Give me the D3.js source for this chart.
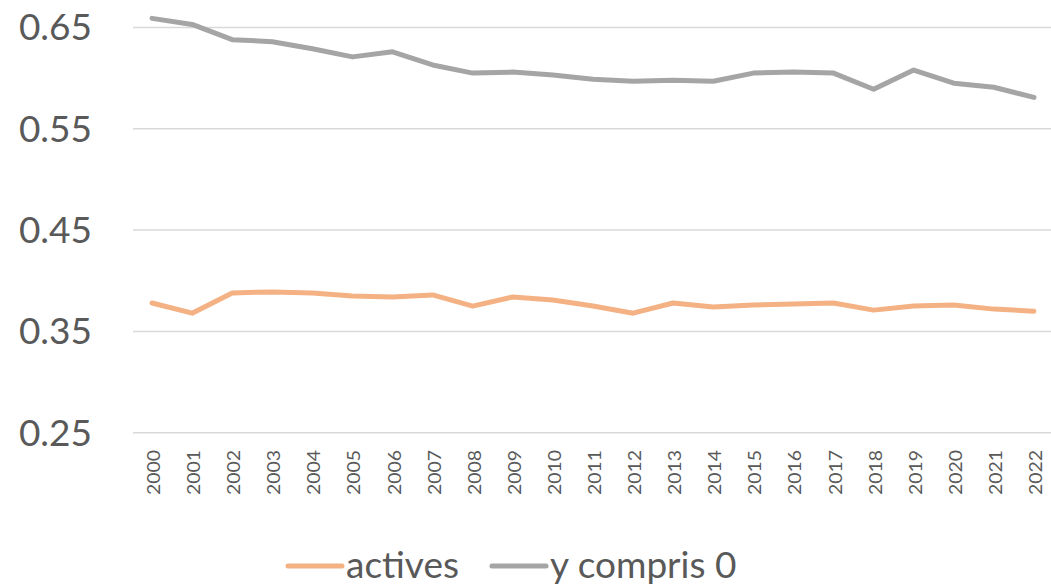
<!DOCTYPE html>
<html>
<head>
<meta charset="utf-8">
<script src="https://cdn.jsdelivr.net/npm/d3@7"></script>
<style>
  body { margin: 0; background: #fff; }
  svg { display: block; font-family: Lato, "Open Sans", sans-serif; }
</style>
</head>
<body>
<svg id="chart" width="1051" height="586"></svg>
<script>
// data
var years = d3.range(2000, 2023).map(String);
var actives = [0.378, 0.368, 0.388, 0.389, 0.388, 0.385, 0.384, 0.386, 0.375, 0.384, 0.381,
  0.375, 0.368, 0.378, 0.374, 0.376, 0.377, 0.378, 0.371, 0.375, 0.376, 0.372, 0.370];
var yCompris0 = [0.659, 0.653, 0.638, 0.636, 0.629, 0.621, 0.626, 0.613, 0.605, 0.606, 0.603,
  0.599, 0.597, 0.598, 0.597, 0.605, 0.606, 0.605, 0.589, 0.608, 0.595, 0.591, 0.581];
var yTicks = [0.25, 0.35, 0.45, 0.55, 0.65];
var series = [
  {name: 'actives', values: actives, color: '#F4B183'},
  {name: 'y compris 0', values: yCompris0, color: '#A5A5A5'}
];

var svg = d3.select('#chart');
var x = d3.scaleBand().domain(years).range([132, 1054]);
var y = d3.scaleLinear().domain([0.25, 0.65]).range([432.7, 27.5]);
var cx = function(d){ return x(d) + x.bandwidth() / 2; };

// grid lines + y labels
var grid = svg.append('g');
grid.selectAll('line').data(yTicks).enter().append('line')
  .attr('x1', 133).attr('x2', 1051)
  .attr('y1', function(d){ return y(d); })
  .attr('y2', function(d){ return y(d); })
  .attr('stroke', '#D9D9D9').attr('stroke-width', 1.5);
grid.selectAll('text').data(yTicks).enter().append('text')
  .attr('x', 92).attr('y', function(d){ return y(d); })
  .attr('dy', '0.35em')
  .attr('text-anchor', 'end')
  .attr('font-size', 37).attr('fill', '#595959')
  .text(function(d){ return d.toFixed(2); });

// x labels (rotated)
svg.append('g').selectAll('text').data(years).enter().append('text')
  .attr('transform', function(d){ return 'translate(' + (cx(d) + 8) + ',495) rotate(-90)'; })
  .attr('font-size', 17).attr('fill', '#595959')
  .attr('textLength', 45).attr('lengthAdjust', 'spacingAndGlyphs')
  .text(function(d){ return d; });

// lines
var line = d3.line()
  .x(function(d, i){ return cx(years[i]); })
  .y(function(d){ return y(d); });
svg.append('g').selectAll('path').data(series).enter().append('path')
  .attr('d', function(s){ return line(s.values); })
  .attr('fill', 'none')
  .attr('stroke', function(s){ return s.color; })
  .attr('stroke-width', 5)
  .attr('stroke-linejoin', 'round')
  .attr('stroke-linecap', 'round');

// legend
var legX = [288, 492];
var leg = svg.append('g').selectAll('g').data(series).enter().append('g')
  .attr('transform', function(s, i){ return 'translate(' + legX[i] + ',566)'; });
leg.append('line')
  .attr('x1', 0).attr('x2', 54)
  .attr('stroke', function(s){ return s.color; })
  .attr('stroke-width', 5).attr('stroke-linecap', 'round');
leg.append('text')
  .attr('x', 58).attr('dy', '0.32em')
  .attr('font-size', 37).attr('fill', '#595959')
  .text(function(s){ return s.name; });
</script>
</body>
</html>
